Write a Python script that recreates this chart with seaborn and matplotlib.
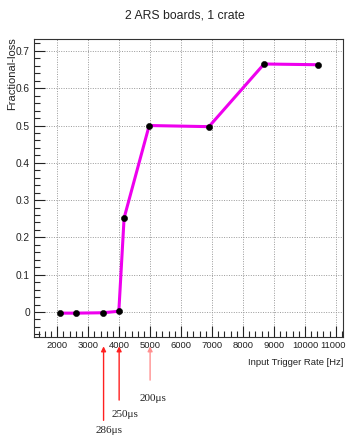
import matplotlib
matplotlib.use("Agg")
import matplotlib.pyplot as plt
import matplotlib.transforms as mtransforms
import seaborn as sns
import pandas as pd
from matplotlib.ticker import MultipleLocator

rate = [2100, 2600, 3470, 3990, 4160, 4970, 6900, 8680, 10420]
loss = [-0.003, -0.003, -0.002, 0.002, 0.252, 0.5, 0.497, 0.665, 0.663]

arrow_rates = [3497, 4000, 5000]
arrow_labels = ["286μs", "250μs", "200μs"]

title = "2 ARS boards, 1 crate"
xlabel = "Input Trigger Rate [Hz]"
ylabel = "Fractional-loss"

sns.set_theme(style="white")
plt.rcParams['font.family'] = ['Liberation Sans', 'DejaVu Sans']

df = pd.DataFrame({"rate": rate, "loss": loss})

fig = plt.figure(figsize=(3.48, 4.4), dpi=100)
ax = fig.add_axes([34/348, 103/440, 309/348, 298/440])

sns.lineplot(data=df, x="rate", y="loss", ax=ax, color="#ee00ee", lw=2.2, zorder=3)
sns.scatterplot(data=df, x="rate", y="loss", ax=ax, color="black", s=20,
                marker="o", edgecolor="black", zorder=4)

ax.set_xlim(1250, 11230)
ax.set_ylim(-0.067, 0.732)
ax.set_yticks([0, 0.1, 0.2, 0.3, 0.4, 0.5, 0.6, 0.7])
ax.set_yticklabels(["0", "0.1", "0.2", "0.3", "0.4", "0.5", "0.6", "0.7"])
ax.yaxis.set_minor_locator(MultipleLocator(0.02))
ax.set_xticks(range(2000, 11001, 1000))
ax.xaxis.set_minor_locator(MultipleLocator(200))

ax.tick_params(axis="both", which="major", direction="in", length=8, width=0.8,
               colors="#222222", pad=3)
ax.tick_params(axis="y", labelsize=7.3)
ax.tick_params(axis="x", labelsize=6.8)
ax.tick_params(axis="both", which="minor", direction="in", length=4, width=0.8)
ax.tick_params(axis="both", which="both", left=True, bottom=True, top=False, right=False)
ax.grid(True, which="major", linestyle=(0, (1, 1.5)), color="#999999", lw=0.7)
for s in ax.spines.values():
    s.set_color("#333333")
    s.set_linewidth(0.8)

# nudge last x tick label so it stays inside the figure
last = ax.get_xticklabels()[-1]
last.set_transform(last.get_transform() + mtransforms.ScaledTranslation(-3/100, 0, fig.dpi_scale_trans))

ax.set_xlabel("")
ax.set_ylabel("")
ax.text(1.0, -0.07, xlabel, transform=ax.transAxes, ha="right", va="top",
        fontsize=6.8, color="#222222")
fig.text(12/348, 1 - 37/440, ylabel, rotation=90, ha="center", va="top",
         fontsize=8, color="#222222")
fig.text(185/348, 1 - 15/440, title, ha="center", va="center", fontsize=8.8,
         color="#222222")

tails = [-0.289, -0.221, -0.154]
label_y = [-0.300, -0.244, -0.190]
label_dx = [5/31*1000, 6/31*1000, 3/31*1000]
colors = ["#ff2020", "#ff2020", "#ff9090"]
tr = ax.get_xaxis_transform()
for xr, lab, ty, ly, dx, c in zip(arrow_rates, arrow_labels, tails, label_y, label_dx, colors):
    ax.annotate("", xy=(xr, -0.022), xytext=(xr, ty), xycoords=tr, textcoords=tr,
                arrowprops=dict(arrowstyle="-|>", color=c, lw=1.0, mutation_scale=7),
                annotation_clip=False)
    ax.text(xr + dx, ly, lab, transform=tr, ha="center", va="top",
            fontsize=8, family=["Liberation Serif", "DejaVu Serif"], color="#222222")

fig.savefig("out.png", dpi=100, facecolor="white")
